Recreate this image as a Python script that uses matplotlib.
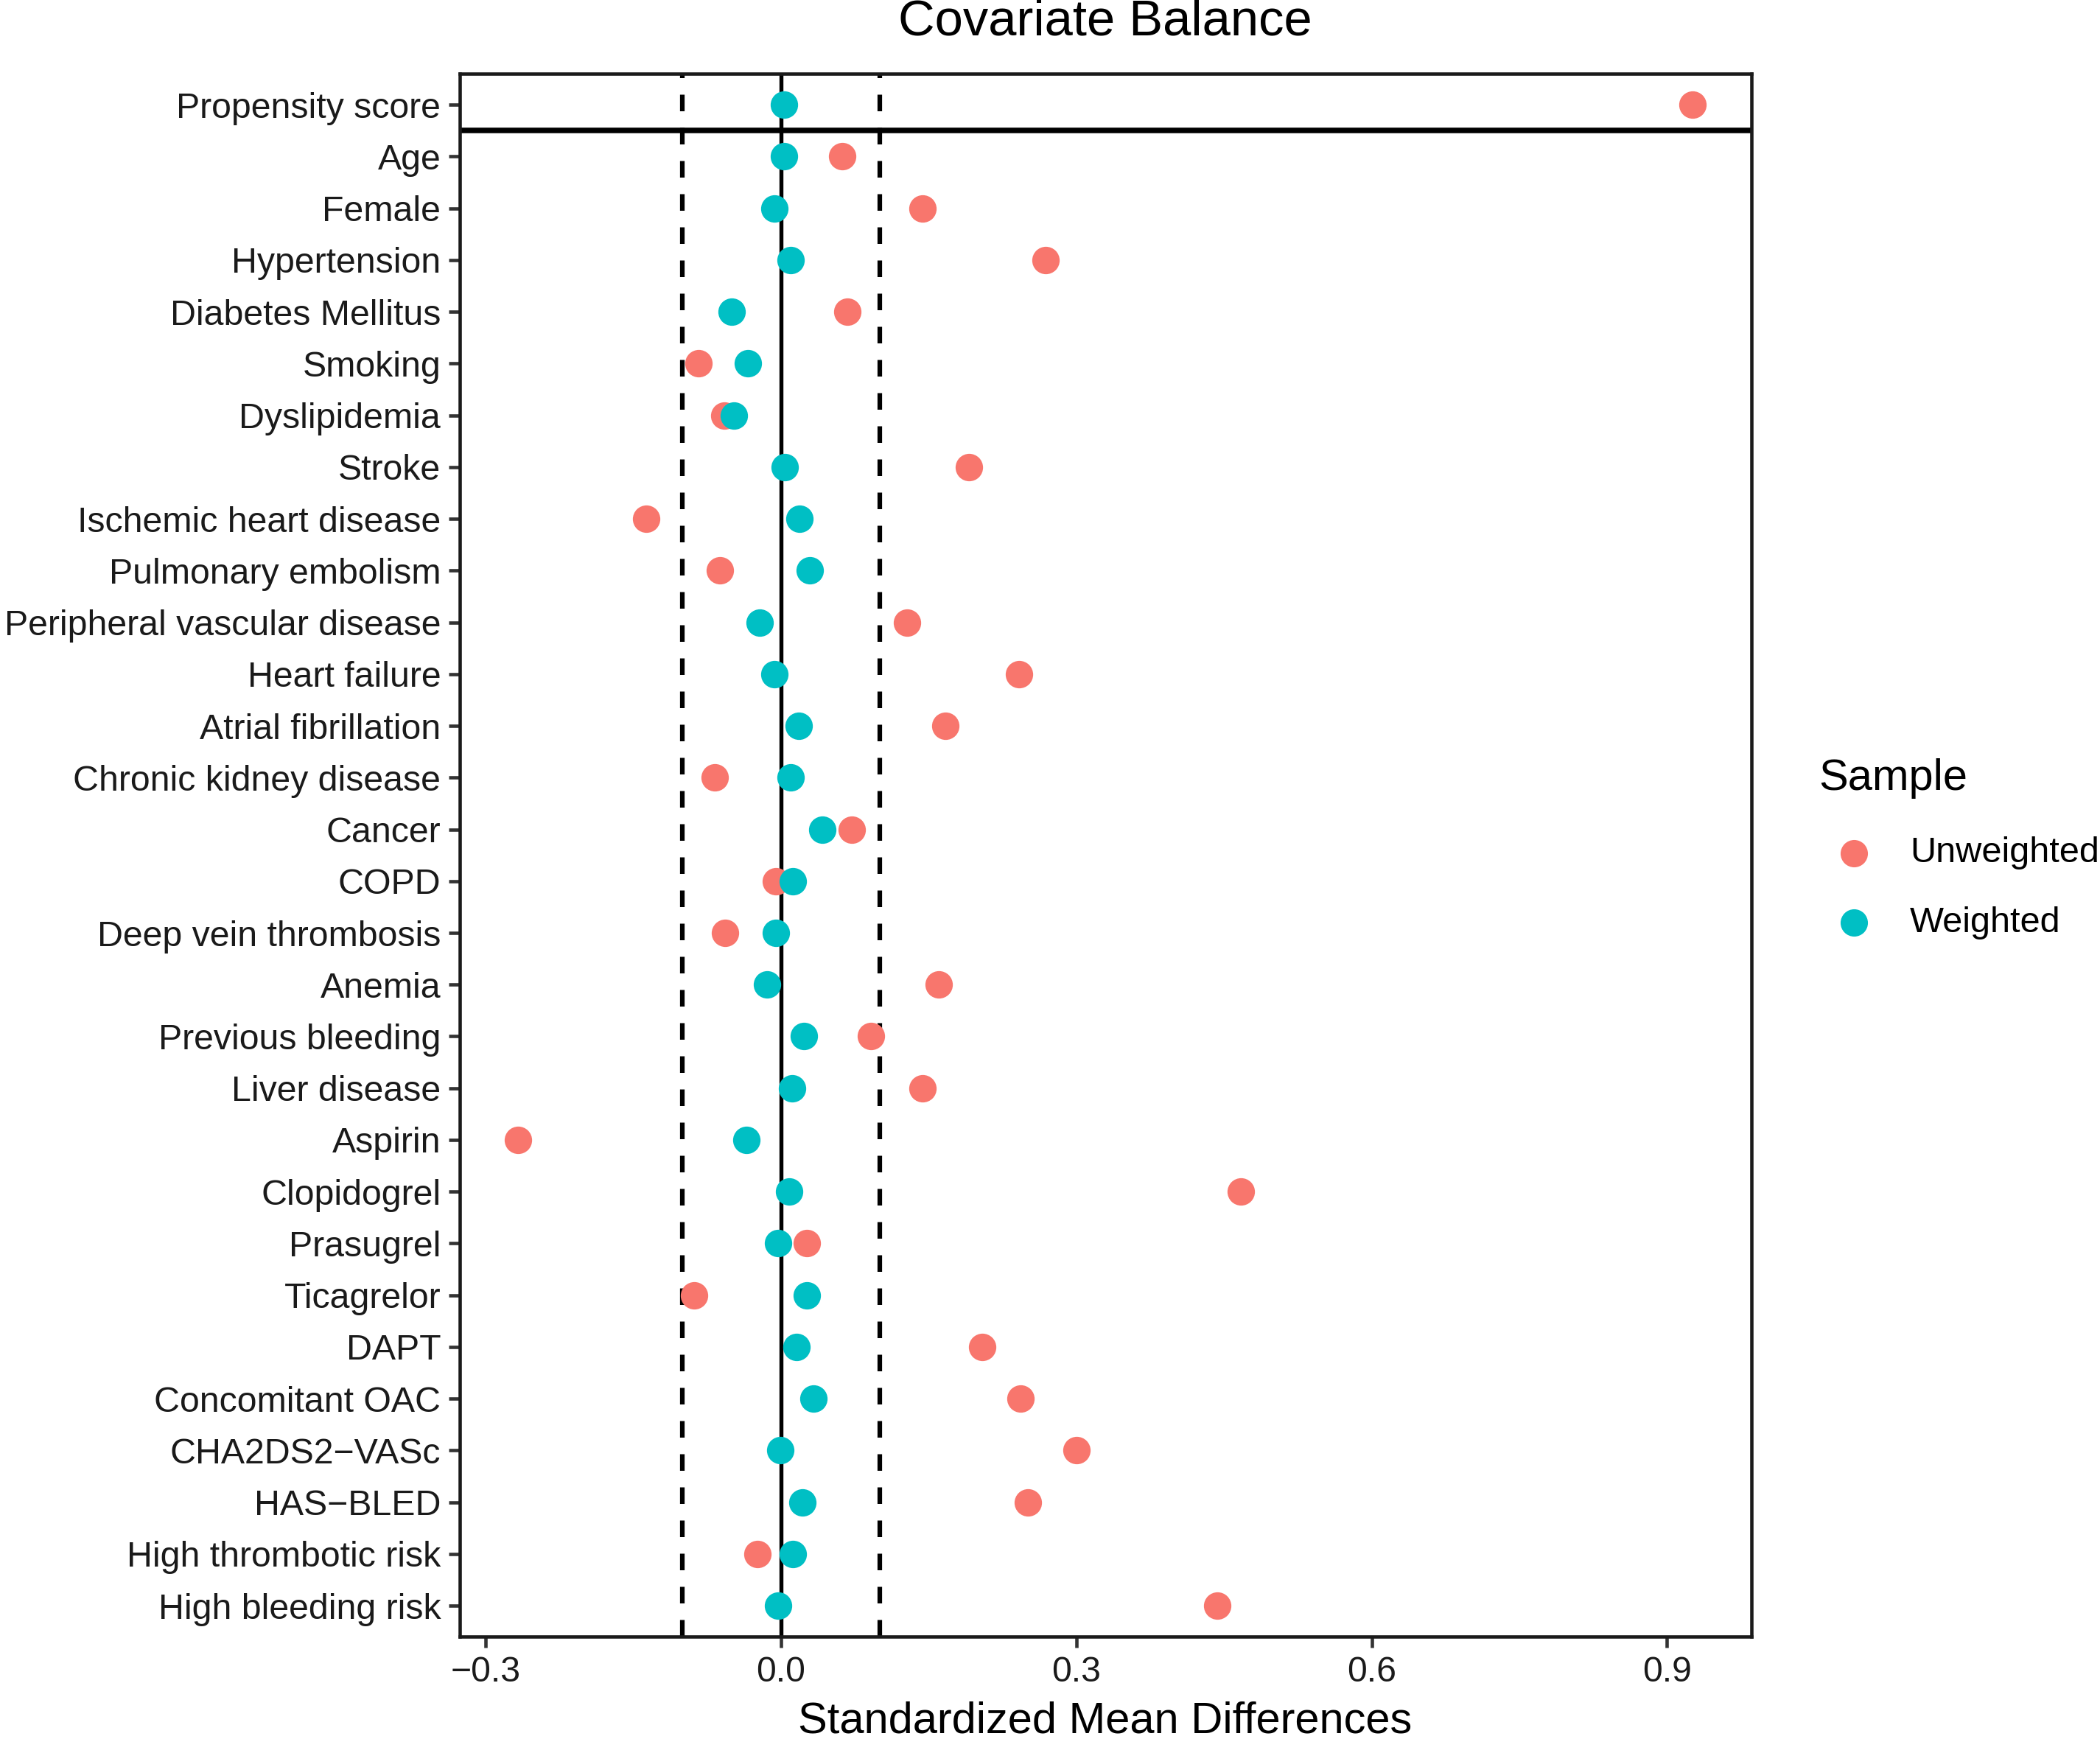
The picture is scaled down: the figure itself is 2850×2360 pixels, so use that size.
import numpy as np
import matplotlib
matplotlib.use("Agg")
import matplotlib.pyplot as plt
from matplotlib.lines import Line2D

plt.rcParams['font.family'] = ['Liberation Sans', 'DejaVu Sans']

covariates = [
    "Propensity score", "Age", "Female", "Hypertension", "Diabetes Mellitus",
    "Smoking", "Dyslipidemia", "Stroke", "Ischemic heart disease",
    "Pulmonary embolism", "Peripheral vascular disease", "Heart failure",
    "Atrial fibrillation", "Chronic kidney disease", "Cancer", "COPD",
    "Deep vein thrombosis", "Anemia", "Previous bleeding", "Liver disease",
    "Aspirin", "Clopidogrel", "Prasugrel", "Ticagrelor", "DAPT",
    "Concomitant OAC", "CHA2DS2\u2212VASc", "HAS\u2212BLED",
    "High thrombotic risk", "High bleeding risk",
]

unweighted = [
    0.926, 0.062, 0.144, 0.269, 0.067,
    -0.084, -0.058, 0.191, -0.137,
    -0.062, 0.128, 0.242,
    0.167, -0.067, 0.072, -0.005,
    -0.057, 0.160, 0.091, 0.144,
    -0.267, 0.467, 0.026, -0.088, 0.204,
    0.243, 0.300, 0.251,
    -0.024, 0.443,
]

weighted = [
    0.003, 0.003, -0.007, 0.010, -0.050,
    -0.034, -0.048, 0.004, 0.019,
    0.029, -0.022, -0.007,
    0.018, 0.010, 0.042, 0.012,
    -0.005, -0.014, 0.023, 0.011,
    -0.035, 0.008, -0.003, 0.026, 0.016,
    0.033, -0.001, 0.022,
    0.012, -0.003,
]

xticks = [-0.3, 0.0, 0.3, 0.6, 0.9]
xtick_labels = ["\u22120.3", "0.0", "0.3", "0.6", "0.9"]
threshold = 0.1
samples = ["Unweighted", "Weighted"]

red = "#F8766D"
teal = "#00BFC4"
colors = [red, teal]

fig = plt.figure(figsize=(9.5, 2360 / 300), dpi=300)
ax = fig.add_axes([0.2188, 0.0588, 0.834 - 0.2188, 0.9576 - 0.0588])

ypos = np.arange(len(covariates))

# reference lines
ax.axvline(0, color="black", lw=1.3, zorder=1)
for t in (-threshold, threshold):
    ax.axvline(t, color="black", lw=1.5, dashes=(3.6, 3.6), zorder=1)
ax.axhline(0.5, color="black", lw=1.8, zorder=1)

ax.scatter(unweighted, ypos, s=80, color=red, linewidths=0, zorder=3)
ax.scatter(weighted, ypos, s=80, color=teal, linewidths=0, zorder=4)

# ggplot-like expansion of the limits
lo, hi = min(unweighted + weighted), max(unweighted + weighted)
pad = 0.05 * (hi - lo)
ax.set_xlim(lo - pad, hi + pad)
ax.set_ylim(len(covariates) - 1 + 0.6, -0.6)

ax.set_yticks(ypos)
ax.set_yticklabels(covariates)
ax.set_xticks(xticks)
ax.set_xticklabels(xtick_labels)
ax.tick_params(axis="both", length=3.6, width=1.1, color="#333333",
               labelsize=11.6, labelcolor="#1a1a1a", pad=2.5)

for sp in ax.spines.values():
    sp.set_linewidth(1.1)
    sp.set_color("#1a1a1a")

fig.text(0.5263, 0.9875, "Covariate Balance", ha="center", va="center", fontsize=16.5)
fig.text(0.5263, 0.0103, "Standardized Mean Differences", ha="center", va="center", fontsize=14.3)

# legend
fig.text(0.866, 0.5525, "Sample", ha="left", va="center", fontsize=14.3)
for lab, col, yy in zip(samples, colors, (0.5094, 0.4694)):
    fig.add_artist(Line2D([0.8827], [yy], transform=fig.transFigure, marker="o",
                          markersize=8.9, markerfacecolor=col, markeredgewidth=0,
                          linestyle="none"))
    fig.text(0.9094, yy, lab, ha="left", va="center", fontsize=11.7)

fig.savefig("out.png", dpi=300)
